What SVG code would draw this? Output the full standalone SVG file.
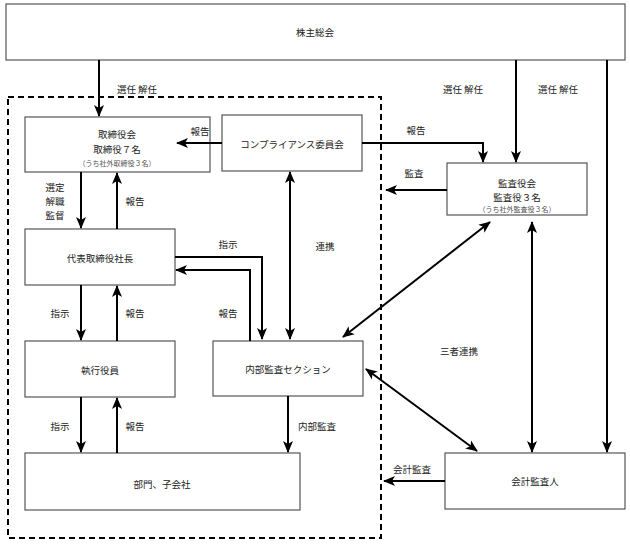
<svg xmlns="http://www.w3.org/2000/svg" width="630" height="544" viewBox="0 0 630 544">
<style>
.box{fill:#fff;stroke:#555;stroke-width:1.2}
.t{font-family:"Noto Sans CJK JP","Noto Sans",sans-serif;font-size:9.5px;fill:#222;text-anchor:middle;dominant-baseline:central}
.s{font-size:7px;fill:#555}
.c{fill:none;stroke:#000;stroke-width:2}
</style>
<defs>
<marker id="a" markerUnits="userSpaceOnUse" markerWidth="12" markerHeight="12" viewBox="0 0 12 12" refX="11" refY="6" orient="auto-start-reverse">
<path d="M0,1 L12,6 L0,11 L3,6 z" fill="#000"/>
</marker>
</defs>
<rect x="8" y="97" width="373" height="441" fill="none" stroke="#000" stroke-width="2" stroke-dasharray="6,4"/>
<g id="shareholders"><rect class="box" x="6" y="4" width="619" height="56"/><text class="t" x="315" y="32">株主総会</text></g>
<g id="board"><rect class="box" x="25" y="117" width="185" height="55"/><text class="t" x="117" y="134">取締役会</text><text class="t" x="117" y="149">取締役７名</text><text class="t s" x="117" y="163">（うち社外取締役３名）</text></g>
<g id="compliance"><rect class="box" x="222" y="115" width="140" height="56"/><text class="t" x="292" y="144">コンプライアンス委員会</text></g>
<g id="auditboard"><rect class="box" x="447" y="163" width="140" height="52"/><text class="t" x="517" y="183">監査役会</text><text class="t" x="517" y="197">監査役３名</text><text class="t s" x="517" y="209">（うち社外監査役３名）</text></g>
<g id="president"><rect class="box" x="25" y="229" width="150" height="56"/><text class="t" x="100" y="258">代表取締役社長</text></g>
<g id="officers"><rect class="box" x="25" y="341" width="150" height="56"/><text class="t" x="100" y="370">執行役員</text></g>
<g id="internal"><rect class="box" x="213" y="341" width="150" height="55"/><text class="t" x="288" y="369">内部監査セクション</text></g>
<g id="divisions"><rect class="box" x="25" y="453" width="275" height="57"/><text class="t" x="162" y="484">部門、子会社</text></g>
<g id="accountant"><rect class="box" x="445" y="453" width="180" height="56"/><text class="t" x="535" y="481">会計監査人</text></g>
<g id="connectors">
<path class="c" d="M99,60 V116" marker-end="url(#a)"/>
<path class="c" d="M516,60 V162" marker-end="url(#a)"/>
<path class="c" d="M607,60 V452" marker-end="url(#a)"/>
<path class="c" d="M222,143 H177" marker-end="url(#a)"/>
<path class="c" d="M362,143 H483 V162" marker-end="url(#a)"/>
<path class="c" d="M447,190 H386" marker-end="url(#a)"/>
<path class="c" d="M81,172 V228" marker-end="url(#a)"/>
<path class="c" d="M117,229 V173" marker-end="url(#a)"/>
<path class="c" d="M175,257 H262 V339" marker-end="url(#a)"/>
<path class="c" d="M250,341 V270 H176" marker-end="url(#a)"/>
<path class="c" d="M290,172 V339" marker-start="url(#a)" marker-end="url(#a)"/>
<path class="c" d="M81,285 V340" marker-end="url(#a)"/>
<path class="c" d="M117,341 V286" marker-end="url(#a)"/>
<path class="c" d="M81,397 V452" marker-end="url(#a)"/>
<path class="c" d="M117,453 V398" marker-end="url(#a)"/>
<path class="c" d="M288,396 V452" marker-end="url(#a)"/>
<path class="c" d="M445,481 H384" marker-end="url(#a)"/>
<path class="c" d="M490,222 L343,337" marker-start="url(#a)" marker-end="url(#a)"/>
<path class="c" d="M366,369 L477,451" marker-start="url(#a)" marker-end="url(#a)"/>
<path class="c" d="M532,222 V452" marker-start="url(#a)" marker-end="url(#a)"/>
</g>
<g id="labels">
<text class="t" x="137" y="89">選任 解任</text>
<text class="t" x="463" y="89">選任 解任</text>
<text class="t" x="558" y="89">選任 解任</text>
<text class="t" x="200" y="131">報告</text>
<text class="t" x="416" y="130">報告</text>
<text class="t" x="414" y="173">監査</text>
<text class="t" x="55" y="187">選定</text>
<text class="t" x="55" y="201">解職</text>
<text class="t" x="55" y="215">監督</text>
<text class="t" x="135" y="201">報告</text>
<text class="t" x="228" y="244">指示</text>
<text class="t" x="325" y="246">連携</text>
<text class="t" x="228" y="313">報告</text>
<text class="t" x="60" y="313">指示</text>
<text class="t" x="135" y="313">報告</text>
<text class="t" x="459" y="351">三者連携</text>
<text class="t" x="60" y="426">指示</text>
<text class="t" x="135" y="426">報告</text>
<text class="t" x="317" y="426">内部監査</text>
<text class="t" x="412" y="469">会計監査</text>
</g>
</svg>
